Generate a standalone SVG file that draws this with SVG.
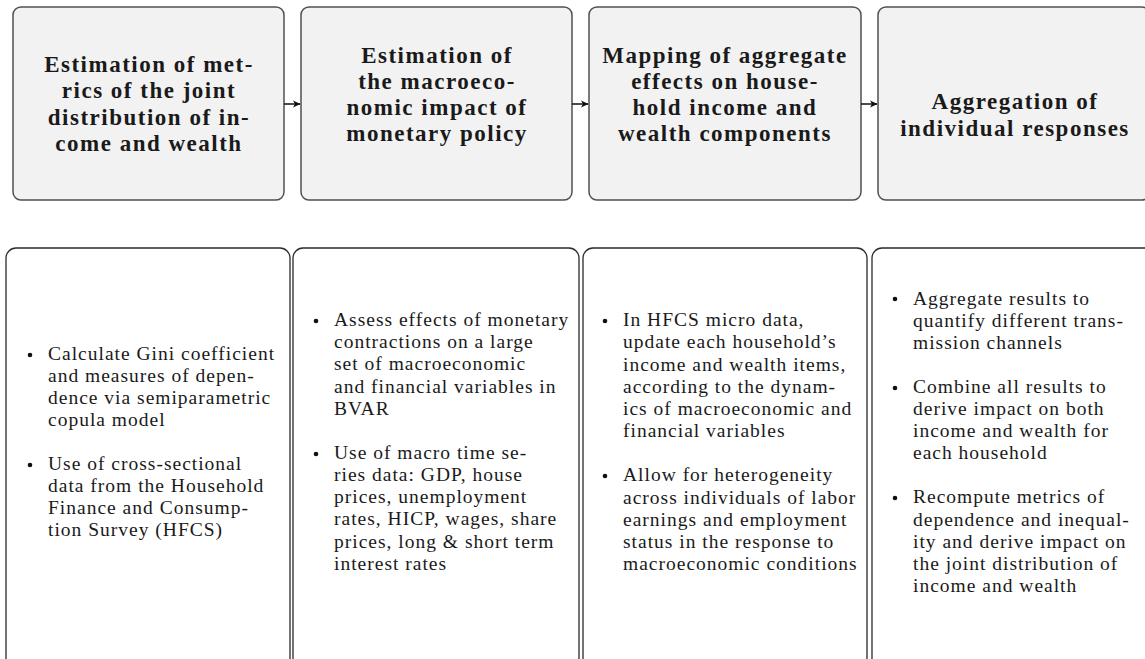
<svg xmlns="http://www.w3.org/2000/svg" width="1145" height="659" viewBox="0 0 1145 659">
<style>
.top{fill:#f2f2f2;stroke:#505050;stroke-width:1.5}
.bot{fill:#fff;stroke:#2a2a2a;stroke-width:1.3}
.h{font-family:"Liberation Serif",serif;font-weight:bold;font-size:23px;letter-spacing:1.5px;text-anchor:middle;fill:#1a1a1a}
.b{font-family:"Liberation Serif",serif;font-size:19.5px;letter-spacing:1px;fill:#1a1a1a}
.dot{fill:#111}
.conn{stroke:#111;stroke-width:1.5;fill:none}
</style>
<defs>
<marker id="arr" markerWidth="8" markerHeight="8" refX="7" refY="4" orient="auto" markerUnits="userSpaceOnUse">
<path d="M0,0.5 L7.5,4 L0,7.5 L2,4 Z" fill="#111"/>
</marker>
</defs>
<rect width="1145" height="659" fill="#fff"/>

<g id="step1">
<rect class="top" x="13" y="7" width="271" height="193" rx="8"/>
<text class="h"><tspan x="149" y="71.5">Estimation of met-</tspan><tspan x="149" y="98">rics of the joint</tspan><tspan x="149" y="124.5">distribution of in-</tspan><tspan x="149" y="151">come and wealth</tspan></text>
</g>
<g id="step2">
<rect class="top" x="301" y="7" width="271" height="193" rx="8"/>
<text class="h"><tspan x="437" y="63">Estimation of</tspan><tspan x="437" y="89">the macroeco-</tspan><tspan x="437" y="115">nomic impact of</tspan><tspan x="437" y="141">monetary policy</tspan></text>
</g>
<g id="step3">
<rect class="top" x="589" y="7" width="272" height="193" rx="8"/>
<text class="h"><tspan x="725" y="63">Mapping of aggregate</tspan><tspan x="725" y="89">effects on house-</tspan><tspan x="725" y="115">hold income and</tspan><tspan x="725" y="141">wealth components</tspan></text>
</g>
<g id="step4">
<rect class="top" x="878" y="7" width="272" height="193" rx="8"/>
<text class="h"><tspan x="1015" y="109">Aggregation of</tspan><tspan x="1015" y="136">individual responses</tspan></text>
</g>

<g id="connectors">
<line class="conn" x1="284" y1="104" x2="300" y2="104" marker-end="url(#arr)"/>
<line class="conn" x1="572" y1="104" x2="588" y2="104" marker-end="url(#arr)"/>
<line class="conn" x1="861" y1="104" x2="877" y2="104" marker-end="url(#arr)"/>
</g>

<g id="detail1">
<rect class="bot" x="6" y="248" width="284" height="430" rx="10"/>
<circle class="dot" cx="30" cy="355" r="2.3"/>
<circle class="dot" cx="30" cy="465" r="2.3"/>
<text class="b"><tspan x="48" y="360">Calculate Gini coefficient</tspan><tspan x="48" y="382">and measures of depen-</tspan><tspan x="48" y="404">dence via semiparametric</tspan><tspan x="48" y="426">copula model</tspan><tspan x="48" y="470">Use of cross-sectional</tspan><tspan x="48" y="492">data from the Household</tspan><tspan x="48" y="514">Finance and Consump-</tspan><tspan x="48" y="536">tion Survey (HFCS)</tspan></text>
</g>
<g id="detail2">
<rect class="bot" x="293" y="248" width="286" height="430" rx="10"/>
<circle class="dot" cx="316" cy="321" r="2.3"/>
<circle class="dot" cx="316" cy="454" r="2.3"/>
<text class="b"><tspan x="334" y="326">Assess effects of monetary</tspan><tspan x="334" y="348">contractions on a large</tspan><tspan x="334" y="370">set of macroeconomic</tspan><tspan x="334" y="393">and financial variables in</tspan><tspan x="334" y="415">BVAR</tspan><tspan x="334" y="459">Use of macro time se-</tspan><tspan x="334" y="481">ries data: GDP, house</tspan><tspan x="334" y="503">prices, unemployment</tspan><tspan x="334" y="525">rates, HICP, wages, share</tspan><tspan x="334" y="548">prices, long &amp; short term</tspan><tspan x="334" y="570">interest rates</tspan></text>
</g>
<g id="detail3">
<rect class="bot" x="583" y="248" width="284" height="430" rx="10"/>
<circle class="dot" cx="605" cy="321" r="2.3"/>
<circle class="dot" cx="605" cy="476" r="2.3"/>
<text class="b"><tspan x="623" y="326">In HFCS micro data,</tspan><tspan x="623" y="348">update each household’s</tspan><tspan x="623" y="371">income and wealth items,</tspan><tspan x="623" y="393">according to the dynam-</tspan><tspan x="623" y="415">ics of macroeconomic and</tspan><tspan x="623" y="437">financial variables</tspan><tspan x="623" y="481">Allow for heterogeneity</tspan><tspan x="623" y="504">across individuals of labor</tspan><tspan x="623" y="526">earnings and employment</tspan><tspan x="623" y="548">status in the response to</tspan><tspan x="623" y="570">macroeconomic conditions</tspan></text>
</g>
<g id="detail4">
<rect class="bot" x="872" y="248" width="284" height="430" rx="10"/>
<circle class="dot" cx="895" cy="299" r="2.3"/>
<circle class="dot" cx="895" cy="388" r="2.3"/>
<circle class="dot" cx="895" cy="498" r="2.3"/>
<text class="b"><tspan x="913" y="305">Aggregate results to</tspan><tspan x="913" y="327">quantify different trans-</tspan><tspan x="913" y="349">mission channels</tspan><tspan x="913" y="393">Combine all results to</tspan><tspan x="913" y="415">derive impact on both</tspan><tspan x="913" y="437">income and wealth for</tspan><tspan x="913" y="459">each household</tspan><tspan x="913" y="503">Recompute metrics of</tspan><tspan x="913" y="526">dependence and inequal-</tspan><tspan x="913" y="548">ity and derive impact on</tspan><tspan x="913" y="570">the joint distribution of</tspan><tspan x="913" y="592">income and wealth</tspan></text>
</g>
</svg>
